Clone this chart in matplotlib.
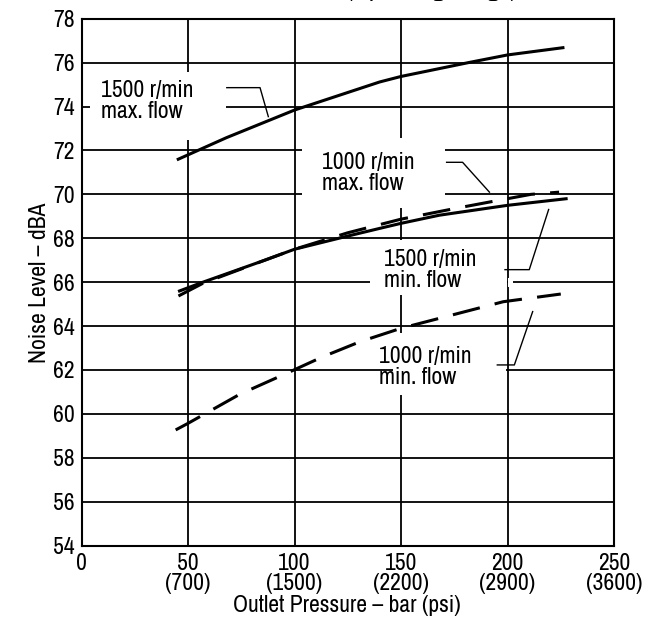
import numpy as np
import matplotlib
matplotlib.use("Agg")
import matplotlib.pyplot as plt
from matplotlib.patches import Rectangle
from matplotlib import font_manager

# pick a narrow face if one is installed, else Liberation Sans at a smaller size
names = sorted({f.name for f in font_manager.fontManager.ttflist})
narrow = [n for n in names if 'Narrow' in n or 'Condensed' in n]
if narrow:
    base_font, fs = narrow[0], 17
else:
    base_font, fs = 'Liberation Sans', 15
plt.rcParams['font.family'] = [base_font, 'DejaVu Sans']
plt.rcParams['lines.scale_dashes'] = False

# curves (bar, dBA)
x_1500_max = [45.4, 50, 68, 100, 140, 150, 181.6, 200, 226]
y_1500_max = [71.6, 71.8, 72.58, 73.84, 75.12, 75.37, 76.0, 76.35, 76.68]

x_1500_min = [46, 57, 86, 100, 125, 140, 150, 168, 200, 227.5]
y_1500_min = [65.6, 66.0, 67.0, 67.5, 68.1, 68.45, 68.68, 69.05, 69.5, 69.8]

x_1000_max = [45.5, 57, 86, 100, 125, 150, 175, 192.6, 211, 224.2]
y_1000_max = [65.37, 65.95, 67.0, 67.5, 68.25, 68.87, 69.35, 69.67, 70.0, 70.1]

x_1000_min = [44.2, 50, 74.4, 96.3, 113.2, 130.8, 150, 198, 225]
y_1000_min = [59.27, 59.57, 60.9, 61.85, 62.6, 63.29, 63.9, 65.11, 65.46]

xticks = [0, 50, 100, 150, 200, 250]
xticklabels = ['0', '50\n(700)', '100\n(1500)', '150\n(2200)', '200\n(2900)', '250\n(3600)']
yticks = list(range(54, 79, 2))

fig = plt.figure(figsize=(6.45, 6.26), dpi=100)
ax = fig.add_axes([0.1264, 0.1284, 0.8256, 0.8417])

ax.set_xlim(0, 250)
ax.set_ylim(54, 78)
ax.set_xticks(xticks)
ax.set_xticklabels(xticklabels, linespacing=0.95, fontsize=fs)
ax.set_yticks(yticks)
ax.set_yticklabels([str(v) for v in yticks], fontsize=fs)
ax.tick_params(length=0, pad=5)
ax.grid(True, color='black', lw=1.3, zorder=0)
ax.set_axisbelow(True)
for s in ax.spines.values():
    s.set_linewidth(1.5)

# white boxes behind the curve labels (gridlines break there)
boxes = [(4.0, 72.48, 63.7, 3.11),
         (103.4, 69.38, 67.3, 3.19),
         (135.4, 65.41, 64.2, 2.49),
         (200.4, 65.8, 2.2, 0.4),
         (146.2, 60.86, 53.3, 2.83)]
for bx, by, bw, bh in boxes:
    ax.add_patch(Rectangle((bx, by), bw, bh, facecolor='white', edgecolor='none', zorder=1))

ax.plot(x_1500_max, y_1500_max, color='black', lw=2.2, zorder=3)
ax.plot(x_1500_min, y_1500_min, color='black', lw=2.2, zorder=3)
ax.plot(x_1000_max, y_1000_max, color='black', lw=2.2, zorder=3, dashes=(20, 11))
ax.plot(x_1000_min, y_1000_min, color='black', lw=2.2, zorder=3, dashes=(20, 11))

# leader lines
leaders = [([68.2, 83.8, 87.7], [74.86, 74.86, 73.54]),
           ([171.4, 178.9, 191.5], [71.46, 71.46, 70.1]),
           ([198.8, 210.2, 219.3], [66.57, 66.57, 69.31]),
           ([195.2, 203.2, 211.8], [62.23, 62.23, 64.66])]
for lx, ly in leaders:
    ax.plot(lx, ly, color='black', lw=1.0, zorder=3)

labels = [(9.0, 74.24, '1500 r/min\nmax. flow'),
          (112.8, 70.96, '1000 r/min\nmax. flow'),
          (142.0, 66.55, '1500 r/min\nmin. flow'),
          (139.8, 62.14, '1000 r/min\nmin. flow')]
for tx, ty, t in labels:
    ax.text(tx, ty, t, ha='left', va='center', fontsize=fs, linespacing=1.0, zorder=4)

fig.text(40 / 645, 0.548, 'Noise Level \u2013 dBA', rotation=90, ha='center', va='center', fontsize=fs)
fig.text(0.538, 0.032, 'Outlet Pressure \u2013 bar (psi)', ha='center', va='center', fontsize=fs)
# title cut off at the top edge of the picture, only descenders show
fig.text(517 / 645, 1.0 + 3 / 626, 'Noise Level (Operating Range)', ha='right', va='baseline',
         fontsize=18, fontweight='bold')

fig.savefig('out.png', dpi=100)
